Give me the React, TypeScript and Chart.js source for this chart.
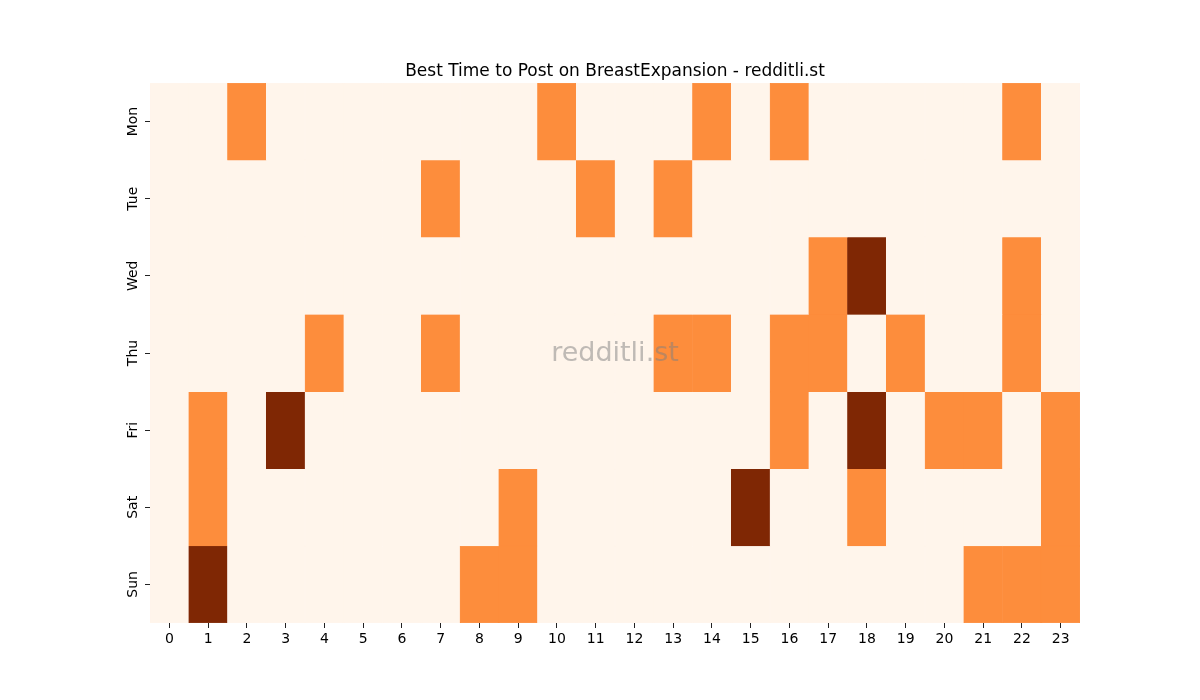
import { useEffect, useRef } from "react";
import { Chart, registerables } from "chart.js";

Chart.register(...registerables);

const days = ["Mon", "Tue", "Wed", "Thu", "Fri", "Sat", "Sun"];
const hours = [
  "0", "1", "2", "3", "4", "5", "6", "7", "8", "9", "10", "11",
  "12", "13", "14", "15", "16", "17", "18", "19", "20", "21", "22", "23",
];

// activity level per hour (0 = low, 1 = mid, 2 = high)
const mon = [0, 0, 1, 0, 0, 0, 0, 0, 0, 0, 1, 0, 0, 0, 1, 0, 1, 0, 0, 0, 0, 0, 1, 0];
const tue = [0, 0, 0, 0, 0, 0, 0, 1, 0, 0, 0, 1, 0, 1, 0, 0, 0, 0, 0, 0, 0, 0, 0, 0];
const wed = [0, 0, 0, 0, 0, 0, 0, 0, 0, 0, 0, 0, 0, 0, 0, 0, 0, 1, 2, 0, 0, 0, 1, 0];
const thu = [0, 0, 0, 0, 1, 0, 0, 1, 0, 0, 0, 0, 0, 1, 1, 0, 1, 1, 0, 1, 0, 0, 1, 0];
const fri = [0, 1, 0, 2, 0, 0, 0, 0, 0, 0, 0, 0, 0, 0, 0, 0, 1, 0, 2, 0, 1, 1, 0, 1];
const sat = [0, 1, 0, 0, 0, 0, 0, 0, 0, 1, 0, 0, 0, 0, 0, 2, 0, 0, 1, 0, 0, 0, 0, 1];
const sun = [0, 2, 0, 0, 0, 0, 0, 0, 1, 1, 0, 0, 0, 0, 0, 0, 0, 0, 0, 0, 0, 1, 1, 1];

const rows = [mon, tue, wed, thu, fri, sat, sun];
const palette = ["#fff5eb", "#fd8d3c", "#7f2704"];

const TITLE = "Best Time to Post on BreastExpansion - redditli.st";
const FONT = "DejaVu Sans";

// title centred over the plot area, plus the faint watermark
const overlay = {
  id: "overlay",
  afterDraw(chart: Chart) {
    const { ctx, chartArea } = chart;
    const cx = (chartArea.left + chartArea.right) / 2;
    ctx.save();
    ctx.textAlign = "center";
    ctx.textBaseline = "middle";
    ctx.font = `17px "${FONT}"`;
    ctx.fillStyle = "#000";
    ctx.fillText(TITLE, cx, chartArea.top - 11);
    ctx.font = `27px "${FONT}"`;
    ctx.fillStyle = "rgba(128,128,128,0.5)";
    ctx.fillText("redditli.st", cx, (chartArea.top + chartArea.bottom) / 2 + 1);
    ctx.restore();
  },
};

export default function App() {
  const canvasRef = useRef<HTMLCanvasElement>(null);
  const chartRef = useRef<Chart | null>(null);

  useEffect(() => {
    if (!canvasRef.current) return;
    if (chartRef.current) chartRef.current.destroy();

    chartRef.current = new Chart(canvasRef.current, {
      type: "bar",
      data: {
        labels: hours,
        datasets: rows.map((vals, i) => ({
          label: days[i],
          data: vals.map(() => 1),
          backgroundColor: vals.map((v) => palette[v]),
          borderColor: vals.map((v) => palette[v]),
          borderWidth: 0.5,
          borderSkipped: false,
          categoryPercentage: 1,
          barPercentage: 1,
        })),
      },
      options: {
        responsive: false,
        animation: false,
        devicePixelRatio: 1,
        layout: { padding: { top: 83, right: 120, bottom: 0, left: 0 } },
        plugins: {
          legend: { display: false },
          tooltip: { enabled: false },
          title: { display: false },
        },
        scales: {
          x: {
            stacked: true,
            offset: true,
            grid: { drawOnChartArea: false, offset: false, tickLength: 5, color: "#222", lineWidth: 1 },
            border: { display: false },
            ticks: { color: "#000", font: { family: FONT, size: 14 }, maxRotation: 0, autoSkip: false, padding: 3 },
            afterFit: (scale) => { scale.height = 77; },
          },
          y: {
            type: "linear",
            stacked: true,
            min: 0,
            max: 7,
            reverse: true,
            grid: { drawOnChartArea: false, tickLength: 5, color: "#222", lineWidth: 1 },
            border: { display: false },
            afterBuildTicks: (scale) => {
              scale.ticks = days.map((_, i) => ({ value: i + 0.5 }));
            },
            ticks: {
              color: "#000",
              font: { family: FONT, size: 14 },
              minRotation: 90,
              maxRotation: 90,
              crossAlign: "center",
              padding: -4,
              callback: (v) => days[Math.floor(Number(v))],
            },
            afterFit: (scale) => { scale.width = 150; },
          },
        },
      },
      plugins: [overlay],
    });

    return () => { chartRef.current?.destroy(); };
  }, []);

  return (
    <div style={{ position: "fixed", left: 0, top: 0, width: 1200, height: 700, background: "#fff" }}>
      <canvas ref={canvasRef} width={1200} height={700} style={{ width: 1200, height: 700 }} />
    </div>
  );
}
